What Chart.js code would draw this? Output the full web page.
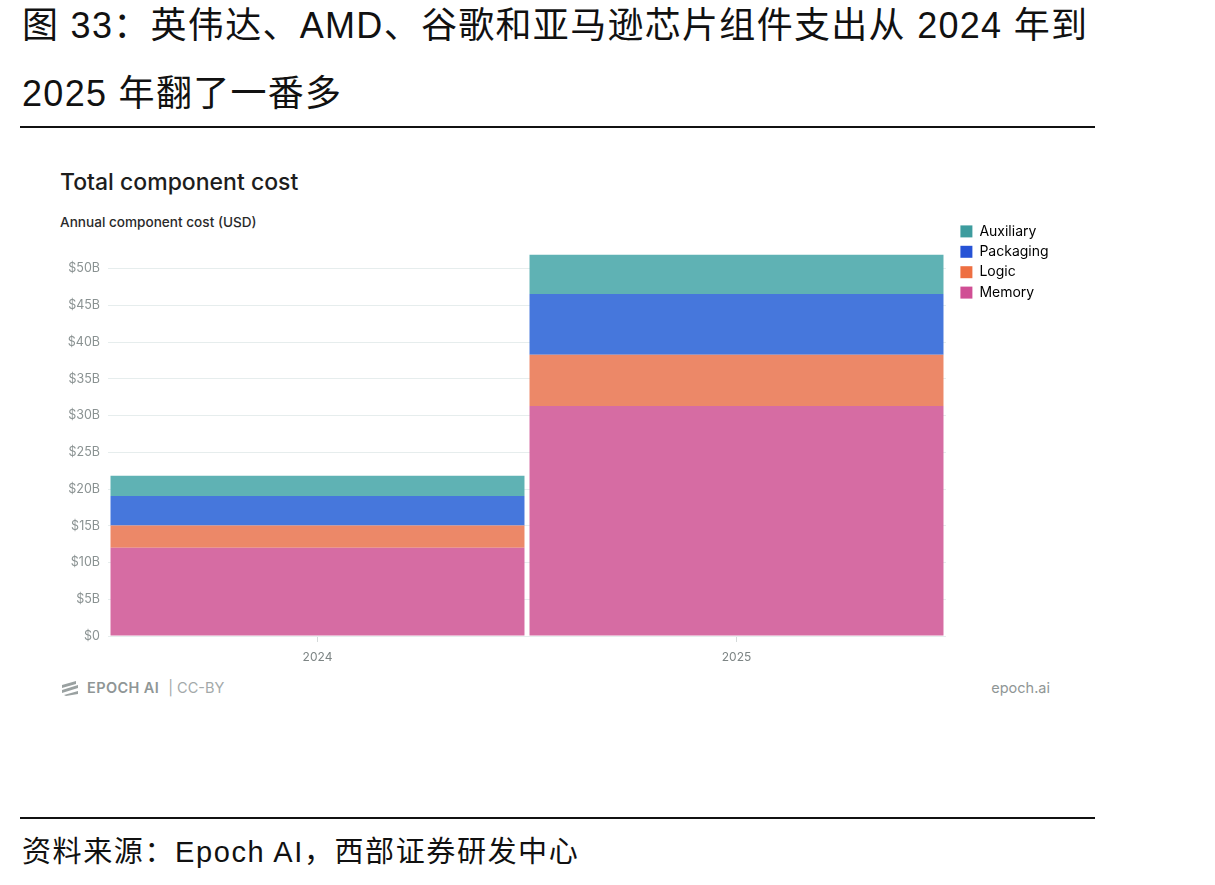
<!DOCTYPE html>
<html lang="zh-CN">
<head>
<meta charset="utf-8">
<title>Total component cost</title>
<script src="https://cdn.jsdelivr.net/npm/chart.js@4.4.1/dist/chart.umd.min.js"></script>
<style>
  html, body { margin: 0; padding: 0; background: #fff; }
  body { width: 1215px; height: 885px; position: relative; overflow: hidden; font-family: "Liberation Sans", "Noto Sans CJK SC", sans-serif; }
  .cap { position: absolute; left: 22px; font-size: 36px; letter-spacing: 1.3px; color: #111; white-space: nowrap; line-height: 1; }
  .rule { position: absolute; left: 20px; width: 1075px; height: 2px; background: #111; }
  .src { position: absolute; left: 22px; top: 838px; font-size: 29px; letter-spacing: 1.6px; color: #111; white-space: nowrap; line-height: 1; }
  .ttl { position: absolute; left: 60px; top: 168px; font: 500 23px Inter, "Noto Sans", sans-serif; color: #1d1d1d; }
  .sub { position: absolute; left: 60px; top: 214px; font: 500 13.6px Inter, "Noto Sans", sans-serif; color: #2a2a2a; }
  #wrap { position: absolute; left: 40px; top: 218px; width: 1014px; height: 458px; }
  .foot { position: absolute; top: 679px; font: 500 14.5px Inter, "Noto Sans", sans-serif; color: #8f9696; white-space: nowrap; }
  .foot.l { left: 60px; display: flex; align-items: center; gap: 7px; }
  .foot.l b { font-weight: 600; letter-spacing: .4px; margin-right: 2px; }
  .foot.l span { color: #a3a9a9; font-weight: 400; }
  .foot.r { right: 165px; font-weight: 400; }
</style>
</head>
<body>
  <div class="cap" style="top:8px">图 33：英伟达、AMD、谷歌和亚马逊芯片组件支出从 2024 年到</div>
  <div class="cap" style="top:76px">2025 年翻了一番多</div>
  <div class="rule" style="top:126px"></div>

  <div class="ttl">Total component cost</div>
  <div class="sub">Annual component cost (USD)</div>
  <div id="wrap"><canvas id="chart"></canvas></div>

  <div class="foot l">
    <svg width="20" height="16" viewBox="0 0 20 16"><path d="M2 5 L16 1 L16 4 L2 8Z M2 10 L18 5 L18 8 L2 13Z M4 15 L18 11 L18 14 L6 16Z" fill="#9aa1a1"/></svg>
    <b>EPOCH AI</b><span>| CC-BY</span>
  </div>
  <div class="foot r">epoch.ai</div>

  <div class="rule" style="top:817px"></div>
  <div class="src">资料来源：Epoch AI，西部证券研发中心</div>

<script>
  const years = ['2024', '2025'];
  const memory = [12.0, 31.3];
  const logic = [3.05, 7.0];
  const packaging = [4.0, 8.25];
  const auxiliary = [2.75, 5.35];
  const yTicks = [0, 5, 10, 15, 20, 25, 30, 35, 40, 45, 50];

  const fills = { memory: '#d66ca3', logic: '#ec8868', packaging: '#4677dc', auxiliary: '#5fb2b4' };
  const swatch = { memory: '#d04e94', logic: '#ee6f42', packaging: '#2653d6', auxiliary: '#3d9c9e' };

  const ds = (label, data, key) => ({
    label, data, key,
    backgroundColor: fills[key],
    borderWidth: 0,
    barPercentage: 1,
    categoryPercentage: 0.988,
  });

  new Chart(document.getElementById('chart').getContext('2d'), {
    type: 'bar',
    data: {
      labels: years,
      datasets: [
        ds('Memory', memory, 'memory'),
        ds('Logic', logic, 'logic'),
        ds('Packaging', packaging, 'packaging'),
        ds('Auxiliary', auxiliary, 'auxiliary'),
      ],
    },
    options: {
      responsive: true,
      maintainAspectRatio: false,
      animation: false,
      layout: { padding: 0 },
      scales: {
        x: {
          stacked: true,
          grid: { offset: false, drawOnChartArea: false, drawTicks: true, tickLength: 6, color: '#d5dada' },
          border: { display: false },
          ticks: { color: '#7d8585', font: { family: 'Inter', size: 12 }, padding: 8 },
          afterFit: (s) => { s.height = 40; },
        },
        y: {
          stacked: true,
          min: 0,
          max: 52,
          afterBuildTicks: (s) => { s.ticks = yTicks.map((v) => ({ value: v })); },
          grid: { color: '#e6eded', drawTicks: false },
          border: { display: false },
          ticks: {
            color: '#8a9292', font: { family: 'Inter', size: 12.5 }, padding: 8,
            callback: (v) => (v === 0 ? '$0' : '$' + v + 'B'),
          },
          afterFit: (s) => { s.width = 68; },
        },
        topPad: {
          type: 'category', position: 'top', labels: years,
          grid: { display: false }, border: { display: false }, ticks: { display: false },
          afterFit: (s) => { s.height = 36; },
        },
        rightPad: {
          type: 'linear', position: 'right',
          grid: { display: false }, border: { display: false }, ticks: { display: false },
          afterFit: (s) => { s.width = 8; },
        },
      },
      plugins: {
        legend: {
          position: 'right',
          align: 'start',
          reverse: true,
          maxWidth: 100,
          labels: {
            boxWidth: 12, boxHeight: 12, padding: 6.4,
            color: '#333', font: { family: 'Inter', size: 14 },
            generateLabels: (chart) => chart.data.datasets.map((d, i) => ({
              text: d.label, fillStyle: swatch[d.key], strokeStyle: swatch[d.key],
              lineWidth: 0, hidden: false, datasetIndex: i,
            })),
          },
        },
        tooltip: { enabled: false },
      },
    },
  });
</script>
</body>
</html>
